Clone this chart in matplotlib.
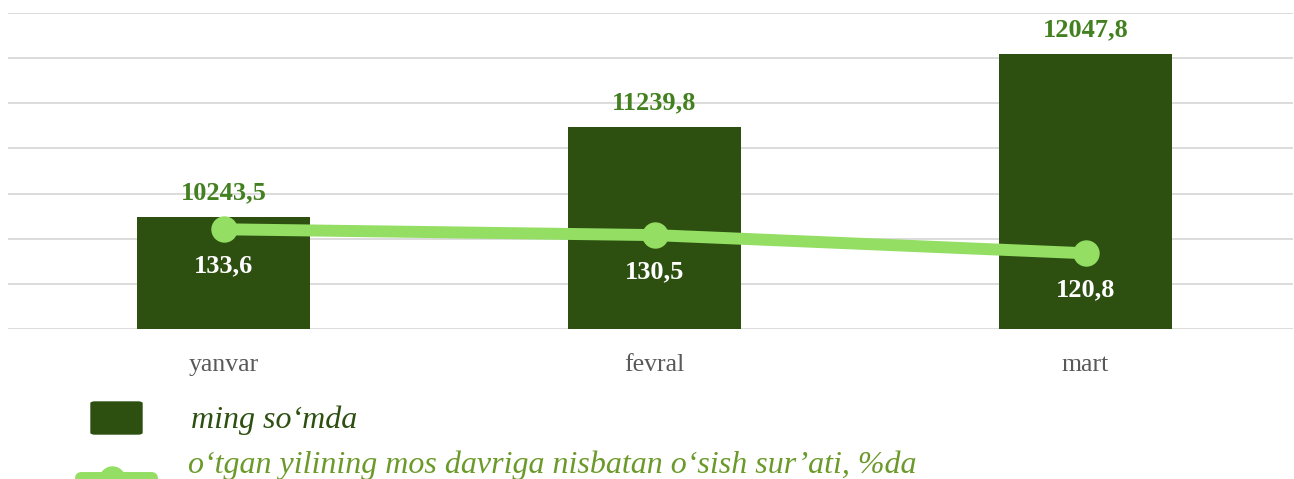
import matplotlib
matplotlib.use('Agg')
import matplotlib.pyplot as plt
from matplotlib.patches import FancyBboxPatch
from matplotlib.lines import Line2D
import numpy as np

###############################################################################
# Data
###############################################################################

months = ['yanvar', 'fevral', 'mart']
amount = [10243.5, 11239.8, 12047.8]      # ming so'mda
growth = [133.6, 130.5, 120.8]            # %da

bar_labels = ['10243,5', '11239,8', '12047,8']
line_labels = ['133,6', '130,5', '120,8']

legend_names = ['ming so\u2018mda',
                'o\u2018tgan yilining mos davriga nisbatan o\u2018sish sur\u2019ati, %da']

###############################################################################
# Style
###############################################################################

W, H = 1294, 479
bar_col = '#2d5011'
line_col = '#93de63'
lab_col = '#43801f'
leg2_col = '#6b9a2a'
grid_col = '#d9d9d9'

plt.rcParams['font.family'] = ['Liberation Serif', 'DejaVu Serif']

fig = plt.figure(figsize=(W/100, H/100), dpi=100)

# plot area in pixels: x 8..1293, y 13..329
ax = fig.add_axes([8/W, 1-329/H, 1285/W, 316/H])
x = np.arange(len(months))

ax.bar(x, amount, width=0.40, color=bar_col, zorder=2)
ax.set_ylim(9000, 12500)
ax.set_xlim(-0.5, -0.5 + 1285/431)
ax.set_yticks(np.arange(9000, 12501, 500))
ax.yaxis.grid(True, color=grid_col, lw=1.3, zorder=0)
ax.set_axisbelow(True)
for s in ax.spines.values():
    s.set_visible(False)

for xi, v, t in zip(x, amount, bar_labels):
    ax.annotate(t, (xi, v), xytext=(0, 12.6), textcoords='offset points',
                ha='center', va='baseline', fontsize=19, fontweight='bold',
                color=lab_col)

# month labels, baseline at y ~ 371 px
for xi, m in zip(x, months):
    ax.text(xi, -(371-329)/316, m, transform=ax.get_xaxis_transform(),
            ha='center', va='baseline', fontsize=18.5, color='#595959')

ax2 = ax.twinx()
ax2.plot(x, growth, color=line_col, lw=8.6, marker='o', ms=18,
         solid_capstyle='butt', zorder=3)
ax2.set_ylim(80.4, 249)
ax2.set_xlim(ax.get_xlim())
for s in ax2.spines.values():
    s.set_visible(False)
for a in (ax, ax2):
    a.tick_params(left=False, labelleft=False, right=False, labelright=False,
                  bottom=False, labelbottom=False)

for xi, v, t in zip(x, growth, line_labels):
    ax2.annotate(t, (xi, v), xytext=(0, -31.3), textcoords='offset points',
                 ha='center', va='baseline', fontsize=19, fontweight='bold',
                 color='white')

###############################################################################
# Legend (drawn by hand, partly cut at the bottom like the original)
###############################################################################

sq = FancyBboxPatch((91/W, 1-434/H), 51/W, 32/H,
                    boxstyle='round,pad=0,rounding_size=0.003',
                    transform=fig.transFigure, facecolor=bar_col,
                    edgecolor=bar_col)
fig.patches.append(sq)
fig.text(191/W, 1-428/H, legend_names[0], fontsize=23, style='italic',
         color=bar_col, ha='left', va='baseline')

fig.lines.append(Line2D([81/W, 152/W], [1-478/H, 1-478/H], lw=8.6,
                        color=line_col, transform=fig.transFigure,
                        solid_capstyle='round'))
fig.lines.append(Line2D([112/W], [1-479/H], marker='o', ms=18, lw=0,
                        color=line_col, transform=fig.transFigure))
fig.text(188/W, 1-473/H, legend_names[1], fontsize=23, style='italic',
         color=leg2_col, ha='left', va='baseline')

fig.savefig('out.png', dpi=100)
